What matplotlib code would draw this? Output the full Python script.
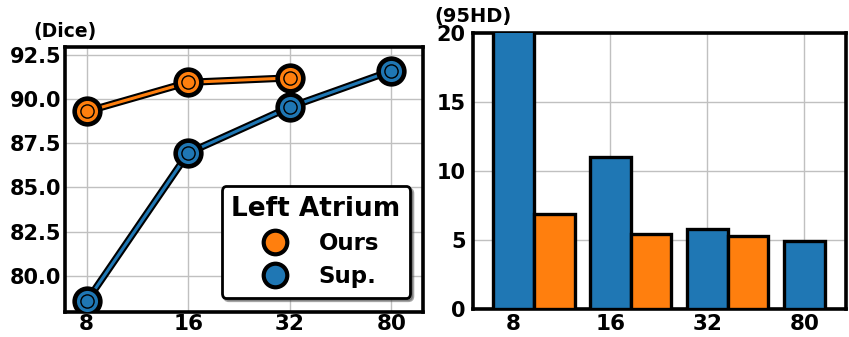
import matplotlib
matplotlib.use("Agg")
import matplotlib.pyplot as plt
import matplotlib.patheffects as pe
from matplotlib.lines import Line2D
import numpy as np

# labelled volumes (x ticks)
labels = ["8", "16", "32", "80"]

# Dice (%)
dice_ours = [89.3, 90.95, 91.2]
dice_sup = [78.55, 86.95, 89.55, 91.6]

# 95% Hausdorff distance
hd_sup = [20.5, 11.0, 5.8, 4.97]
hd_ours = [6.9, 5.45, 5.3]

C_BLUE = "#1f77b4"
C_ORANGE = "#ff7f0e"

plt.rcParams["font.family"] = "DejaVu Sans"
plt.rcParams["font.weight"] = "bold"

fig = plt.figure(figsize=(8.49, 3.37), dpi=100)
ax1 = fig.add_axes([65 / 849, 1 - 312 / 337, 358 / 849, 265 / 337])
ax2 = fig.add_axes([472.7 / 849, 1 - 309.3 / 337, 373.3 / 849, 276.6 / 337])

# ---- left: Dice curves ----
x = np.arange(len(labels))
stroke = [pe.Stroke(linewidth=5.2, foreground="black"), pe.Normal()]


def curve(ax, xs, ys, color):
    ax.plot(xs, ys, color=color, lw=2.2, path_effects=stroke, zorder=3)
    ax.plot(xs, ys, ls="none", marker="o", ms=18.5, mfc=color, mec="black",
            mew=3.3, zorder=4)
    ax.plot(xs, ys, ls="none", marker="o", ms=9.5, mfc=color, mec="black",
            mew=1.0, zorder=5)


curve(ax1, x[:len(dice_ours)], dice_ours, C_ORANGE)
curve(ax1, x, dice_sup, C_BLUE)

ax1.set_xlim(-0.213, 3.31)
ax1.set_ylim(77.95, 92.95)
ax1.set_yticks([80.0, 82.5, 85.0, 87.5, 90.0, 92.5])
ax1.set_yticklabels(["80.0", "82.5", "85.0", "87.5", "90.0", "92.5"])
ax1.set_xticks(x)
ax1.set_xticklabels(labels)
ax1.text(0, 1.0 + 15 / 265, "(Dice)", transform=ax1.transAxes,
         ha="center", va="center", fontsize=13.5, fontweight="bold")

handles = [
    Line2D([], [], ls="none", marker="o", ms=17, mfc=C_ORANGE, mec="black", mew=3.0),
    Line2D([], [], ls="none", marker="o", ms=17, mfc=C_BLUE, mec="black", mew=3.0),
]
leg = ax1.legend(handles, ["Ours", "Sup."], title="Left Atrium",
                 loc="lower right", bbox_to_anchor=(0.964, 0.053),
                 borderaxespad=0, fancybox=True, shadow=True, framealpha=1,
                 prop={"size": 16.5, "weight": "bold"},
                 title_fontproperties={"size": 19, "weight": "bold"},
                 handletextpad=0.9, borderpad=0.42, labelspacing=0.45,
                 edgecolor="black")
leg.get_frame().set_linewidth(2.0)

# ---- right: 95HD bars ----
w = 0.42
ax2.bar(x, hd_sup, width=w, color=C_BLUE, edgecolor="black", lw=2.4, zorder=3)
ax2.bar(x[:len(hd_ours)] + w, hd_ours, width=w, color=C_ORANGE,
        edgecolor="black", lw=2.4, zorder=3)
ax2.set_xlim(-0.42, 3.43)
ax2.set_ylim(0, 20)
ax2.set_yticks([0, 5, 10, 15, 20])
ax2.set_xticks(x)
ax2.set_xticklabels(labels)
ax2.text(0, 1.0 + 16.5 / 276.6, "(95HD)", transform=ax2.transAxes,
         ha="center", va="center", fontsize=14, fontweight="bold")

for ax in (ax1, ax2):
    ax.grid(True, color="#c0c0c0", lw=1.0, zorder=0)
    ax.set_axisbelow(True)
    for s in ax.spines.values():
        s.set_linewidth(2.6)
        s.set_color("black")
    ax.tick_params(axis="both", length=0)
    ax.tick_params(axis="y", labelsize=15, pad=2.5)
    ax.tick_params(axis="x", labelsize=15.5)
    for t in ax.get_xticklabels() + ax.get_yticklabels():
        t.set_fontweight("bold")
ax1.tick_params(axis="x", pad=1.5)
ax2.tick_params(axis="x", pad=3.5)
ax2.tick_params(axis="y", pad=5)

fig.savefig("out.png", dpi=100)
